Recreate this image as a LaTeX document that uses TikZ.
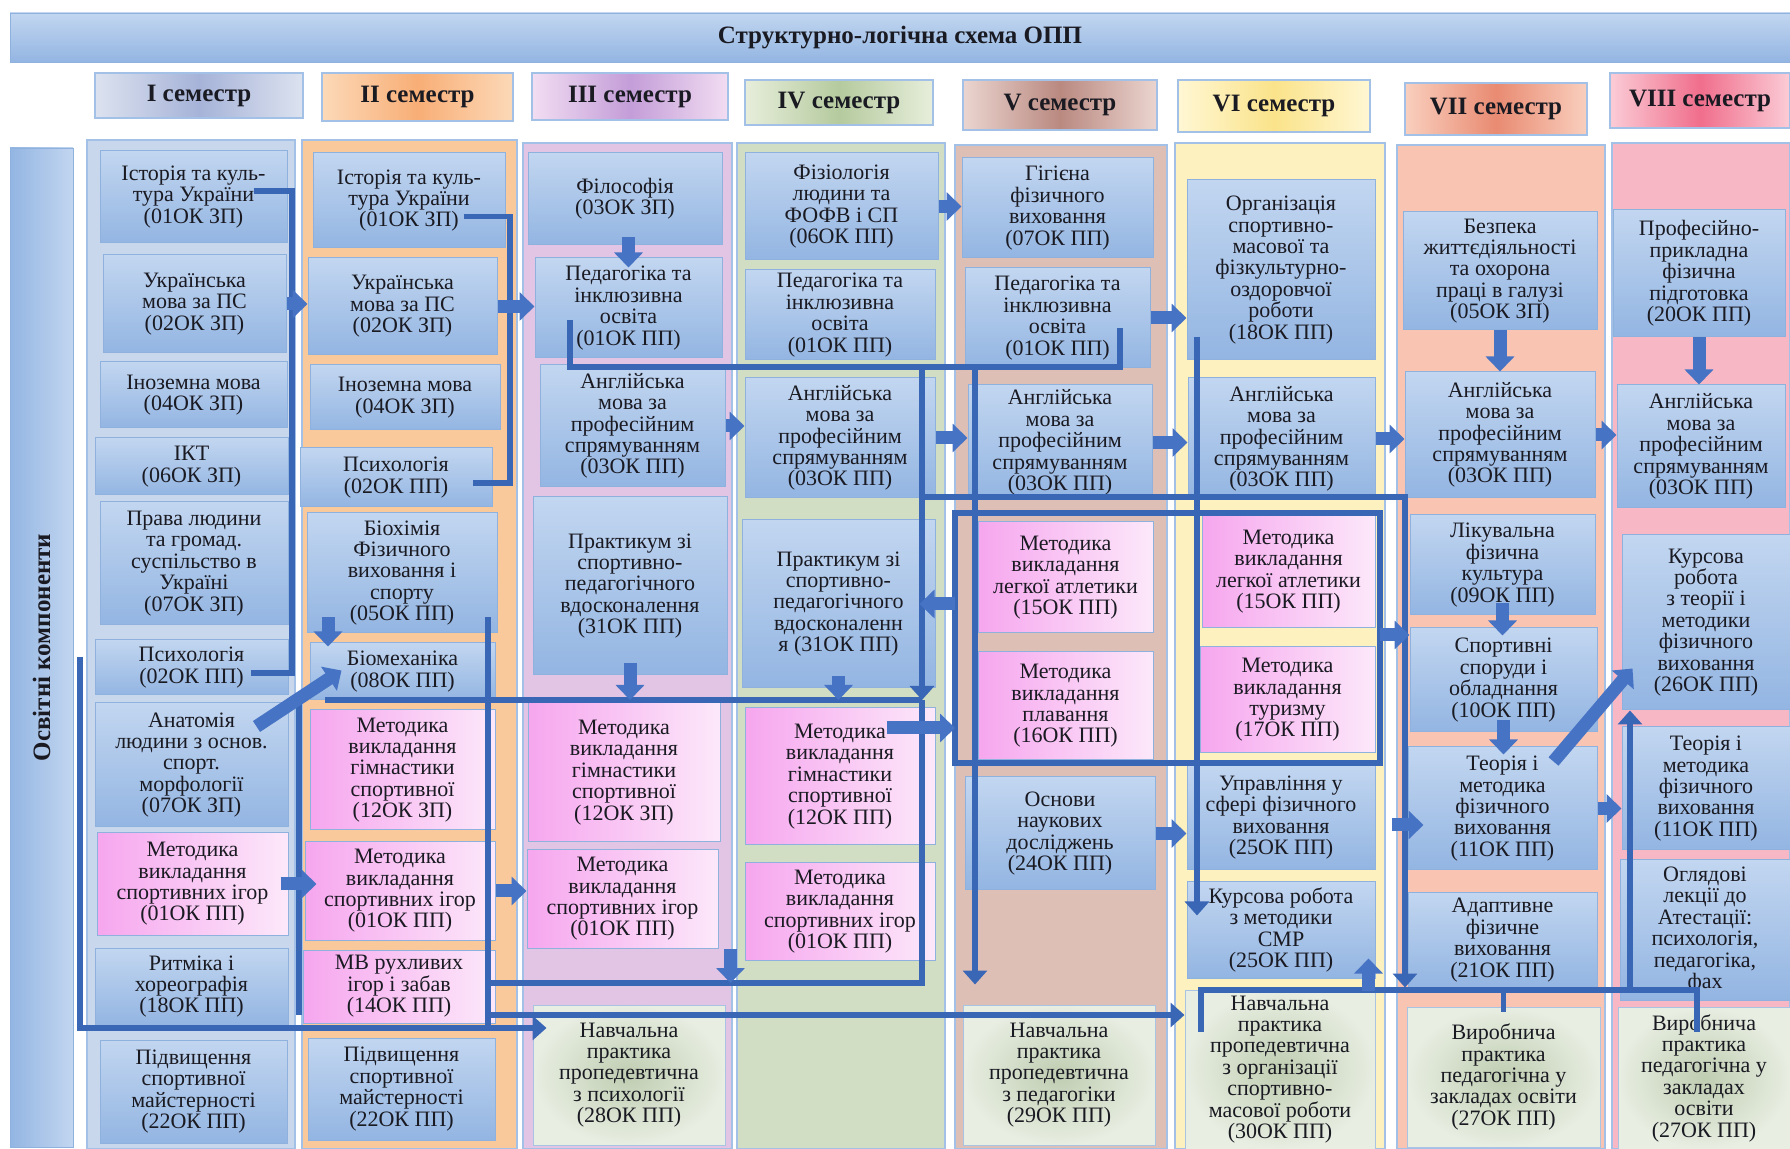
\documentclass[tikz,border=0pt]{standalone}
\usepackage{fontspec}
\setmainfont{Liberation Serif}
\usetikzlibrary{arrows.meta}

\definecolor{ink}{HTML}{1A1A22}
\definecolor{edgeblue}{HTML}{8EB1DE}
\definecolor{boxtop}{HTML}{C2D6F0}
\definecolor{boxbot}{HTML}{93B5E2}
\definecolor{pinkl}{HTML}{F6A6EE}
\definecolor{pinkr}{HTML}{FCE8FA}
\definecolor{greenin}{HTML}{BFCDB1}
\definecolor{greenout}{HTML}{E8EEE2}
\definecolor{greenedge}{HTML}{A9C3E3}
\definecolor{laneedge}{HTML}{A3C0E6}
\definecolor{linecol}{HTML}{3A66B6}
\definecolor{arrcol}{HTML}{4673C4}
\definecolor{lane1}{HTML}{C9D7EC}
\definecolor{lane2}{HTML}{F9C99C}
\definecolor{lane3}{HTML}{E2C5E4}
\definecolor{lane4}{HTML}{D2DEC3}
\definecolor{lane5}{HTML}{DEBFB5}
\definecolor{lane6}{HTML}{FCF1BF}
\definecolor{lane7}{HTML}{F9C4B2}
\definecolor{lane8}{HTML}{F8B7C4}
\definecolor{s1e}{HTML}{DCE2EF}\definecolor{s1m}{HTML}{A6B3D8}
\definecolor{s2e}{HTML}{FCD9B8}\definecolor{s2m}{HTML}{F8AE76}
\definecolor{s3e}{HTML}{F2DDF2}\definecolor{s3m}{HTML}{C39DD8}
\definecolor{s4e}{HTML}{E7EEDB}\definecolor{s4m}{HTML}{B5CA9E}
\definecolor{s5e}{HTML}{EBD5D0}\definecolor{s5m}{HTML}{B98980}
\definecolor{s6e}{HTML}{FFF7D4}\definecolor{s6m}{HTML}{FAE38A}
\definecolor{s7e}{HTML}{F9CFBE}\definecolor{s7m}{HTML}{E98B72}
\definecolor{s8e}{HTML}{FBCCD6}\definecolor{s8m}{HTML}{F06E8C}

\tikzset{
  subj/.style={draw=edgeblue, line width=0.5pt, top color=boxtop, bottom color=boxbot,
    text=ink, align=center, inner sep=1pt, font=\fontsize{11}{10.7}\selectfont},
  pinkbox/.style={subj, left color=pinkl, right color=pinkr},
  practbox/.style={subj, draw=greenedge, inner color=greenin, outer color=greenout},
  lane/.style={draw=laneedge, line width=0.6pt, fill=#1},
  semhead/.style 2 args={draw=laneedge, line width=0.6pt, left color=#1, right color=#1,
    middle color=#2, text=ink, font=\bfseries\fontsize{12.5}{12.5}\selectfont},
  flow/.style={draw=linecol, line width=2.8pt},
  flowarr/.style={flow, -{Triangle[width=12pt,length=7pt]}},
  fat/.style={draw=arrcol, line width=6.5pt, -{Triangle[width=14pt,length=7.5pt]}}
}

\newcommand{\discbox}[7]{%
  \pgfmathsetmacro\dbw{(#4-#2)/2}%
  \pgfmathsetmacro\dbh{(#5-#3)/2}%
  \node[#6, minimum width=\dbw pt, minimum height=\dbh pt] (#1) at ({(#2+#4)/2},{(#3+#5)/2}) {#7};%
}

\begin{document}
\begin{tikzpicture}[x=0.5pt, y=-0.5pt]
  \useasboundingbox (0,0) rectangle (1790,1149);
  \fill[white] (0,0) rectangle (1790,1149);

  \discbox{col1}{87}{140}{295}{1149}{lane=lane1}{}
  \discbox{col2}{302}{140}{517}{1149}{lane=lane2}{}
  \discbox{col3}{523}{143}{732}{1149}{lane=lane3}{}
  \discbox{col4}{737}{143}{945}{1149}{lane=lane4}{}
  \discbox{col5}{955}{145}{1167}{1149}{lane=lane5}{}
  \discbox{col6}{1175}{143}{1385}{1149}{lane=lane6}{}
  \discbox{col7}{1397}{145}{1605}{1149}{lane=lane7}{}
  \discbox{col8}{1612}{143}{1790}{1149}{lane=lane8}{}

  \discbox{title}{10}{13}{1790}{62}{draw=edgeblue, top color=boxtop, bottom color=boxbot, text=ink, font=\bfseries\fontsize{12.5}{12.5}\selectfont}{Структурно-логічна схема ОПП}
  \discbox{comp}{10}{148}{73}{1147}{draw=edgeblue, left color=boxbot, right color=boxtop}{}
  \node[rotate=90, text=ink, font=\bfseries\fontsize{12.5}{12.5}\selectfont] (comptxt) at (comp) {Освітні компоненти};

  \discbox{sem1}{95}{73}{303}{118}{semhead={s1e}{s1m}}{I семестр}
  \discbox{sem2}{322}{73}{513}{121}{semhead={s2e}{s2m}}{II семестр}
  \discbox{sem3}{532}{73}{728}{120}{semhead={s3e}{s3m}}{III семестр}
  \discbox{sem4}{745}{80}{933}{125}{semhead={s4e}{s4m}}{IV семестр}
  \discbox{sem5}{963}{80}{1157}{130}{semhead={s5e}{s5m}}{V семестр}
  \discbox{sem6}{1178}{80}{1370}{132}{semhead={s6e}{s6m}}{VI семестр}
  \discbox{sem7}{1405}{83}{1587}{135}{semhead={s7e}{s7m}}{VII семестр}
  \discbox{sem8}{1610}{73}{1790}{128}{semhead={s8e}{s8m}}{VIII семестр}

  \discbox{a1}{100}{151}{287}{243}{subj}{Історія та куль-\\тура України\\(01ОК ЗП)}
  \discbox{a2}{103}{255}{286}{353}{subj}{Українська\\мова за ПС\\(02ОК ЗП)}
  \discbox{a3}{100}{362}{287}{428}{subj}{Іноземна мова\\(04ОК ЗП)}
  \discbox{a4}{95}{438}{288}{495}{subj}{ІКТ\\(06ОК ЗП)}
  \discbox{a5}{100}{502}{288}{625}{subj}{Права людини\\та громад.\\суспільство в\\Україні\\(07ОК ЗП)}
  \discbox{a6}{95}{640}{288}{695}{subj}{Психологія\\(02ОК ПП)}
  \discbox{a7}{95}{703}{288}{827}{subj}{Анатомія\\людини з основ.\\спорт.\\морфології\\(07ОК ЗП)}
  \discbox{a8}{97}{833}{288}{935}{pinkbox}{Методика\\викладання\\спортивних ігор\\(01ОК ПП)}
  \discbox{a9}{95}{948}{288}{1025}{subj}{Ритміка і\\хореографія\\(18ОК ПП)}
  \discbox{a10}{100}{1040}{287}{1143}{subj}{Підвищення\\спортивної\\майстерності\\(22ОК ПП)}

  \discbox{b1}{313}{153}{505}{248}{subj}{Історія та куль-\\тура України\\(01ОК ЗП)}
  \discbox{b2}{308}{258}{497}{355}{subj}{Українська\\мова за ПС\\(02ОК ЗП)}
  \discbox{b3}{310}{365}{500}{430}{subj}{Іноземна мова\\(04ОК ЗП)}
  \discbox{b4}{300}{448}{492}{507}{subj}{Психологія\\(02ОК ПП)}
  \discbox{b5}{307}{513}{497}{633}{subj}{Біохімія\\Фізичного\\виховання і\\спорту\\(05ОК ПП)}
  \discbox{b6}{310}{643}{495}{700}{subj}{Біомеханіка\\(08ОК ПП)}
  \discbox{b7}{310}{710}{495}{830}{pinkbox}{Методика\\викладання\\гімнастики\\спортивної\\(12ОК ЗП)}
  \discbox{b8}{305}{842}{495}{940}{pinkbox}{Методика\\викладання\\спортивних ігор\\(01ОК ПП)}
  \discbox{b9}{303}{950}{495}{1023}{pinkbox}{МВ рухливих\\ігор і забав\\(14ОК ПП)}
  \discbox{b10}{308}{1038}{495}{1140}{subj}{Підвищення\\спортивної\\майстерності\\(22ОК ПП)}

  \discbox{c1}{528}{153}{722}{245}{subj}{Філософія\\(03ОК ЗП)}
  \discbox{c2}{535}{258}{722}{358}{subj}{Педагогіка та\\інклюзивна\\освіта\\(01ОК ПП)}
  \discbox{c3}{540}{365}{725}{487}{subj}{Англійська\\мова за\\професійним\\спрямуванням\\(03ОК ПП)}
  \discbox{c4}{533}{497}{727}{675}{subj}{Практикум зі\\спортивно-\\педагогічного\\вдосконалення\\(31ОК ПП)}
  \discbox{c5}{528}{703}{720}{842}{pinkbox}{Методика\\викладання\\гімнастики\\спортивної\\(12ОК ЗП)}
  \discbox{c6}{527}{850}{718}{948}{pinkbox}{Методика\\викладання\\спортивних ігор\\(01ОК ПП)}
  \discbox{c7}{533}{1005}{725}{1145}{practbox}{Навчальна\\практика\\пропедевтична\\з психології\\(28ОК ПП)}

  \discbox{d1}{745}{153}{938}{260}{subj}{Фізіологія\\людини та\\ФОФВ і СП\\(06ОК ПП)}
  \discbox{d2}{745}{270}{935}{360}{subj}{Педагогіка та\\інклюзивна\\освіта\\(01ОК ПП)}
  \discbox{d3}{745}{378}{935}{498}{subj}{Англійська\\мова за\\професійним\\спрямуванням\\(03ОК ПП)}
  \discbox{d4}{742}{520}{935}{688}{subj}{Практикум зі\\спортивно-\\педагогічного\\вдосконаленн\\я (31ОК ПП)}
  \discbox{d5}{745}{708}{935}{845}{pinkbox}{Методика\\викладання\\гімнастики\\спортивної\\(12ОК ПП)}
  \discbox{d6}{745}{863}{935}{960}{pinkbox}{Методика\\викладання\\спортивних ігор\\(01ОК ПП)}

  \discbox{e1}{962}{158}{1153}{258}{subj}{Гігієна\\фізичного\\виховання\\(07ОК ПП)}
  \discbox{e2}{965}{268}{1150}{368}{subj}{Педагогіка та\\інклюзивна\\освіта\\(01ОК ПП)}
  \discbox{e3}{968}{385}{1152}{500}{subj}{Англійська\\мова за\\професійним\\спрямуванням\\(03ОК ПП)}
  \discbox{e4}{978}{522}{1153}{633}{pinkbox}{Методика\\викладання\\легкої атлетики\\(15ОК ПП)}
  \discbox{e5}{978}{652}{1153}{760}{pinkbox}{Методика\\викладання\\плавання\\(16ОК ПП)}
  \discbox{e6}{965}{777}{1155}{890}{subj}{Основи\\наукових\\досліджень\\(24ОК ПП)}
  \discbox{e7}{963}{1005}{1155}{1145}{practbox}{Навчальна\\практика\\пропедевтична\\з педагогіки\\(29ОК ПП)}

  \discbox{f1}{1187}{180}{1375}{360}{subj}{Організація\\спортивно-\\масової та\\фізкультурно-\\оздоровчої\\роботи\\(18ОК ПП)}
  \discbox{f2}{1188}{378}{1375}{500}{subj}{Англійська\\мова за\\професійним\\спрямуванням\\(03ОК ПП)}
  \discbox{f3}{1202}{515}{1375}{628}{pinkbox}{Методика\\викладання\\легкої атлетики\\(15ОК ПП)}
  \discbox{f4}{1200}{647}{1375}{753}{pinkbox}{Методика\\викладання\\туризму\\(17ОК ПП)}
  \discbox{f5}{1187}{765}{1375}{870}{subj}{Управління у\\сфері фізичного\\виховання\\(25ОК ПП)}
  \discbox{f6}{1187}{882}{1375}{978}{subj}{Курсова робота\\з методики\\СМР\\(25ОК ПП)}
  \discbox{f7}{1185}{990}{1375}{1149}{practbox}{Навчальна\\практика\\пропедевтична\\з організації\\спортивно-\\масової роботи\\(30ОК ПП)}

  \discbox{g1}{1403}{212}{1597}{330}{subj}{Безпека\\життєдіяльності\\та охорона\\праці в галузі\\(05ОК ЗП)}
  \discbox{g2}{1405}{372}{1595}{498}{subj}{Англійська\\мова за\\професійним\\спрямуванням\\(03ОК ПП)}
  \discbox{g3}{1410}{515}{1595}{615}{subj}{Лікувальна\\фізична\\культура\\(09ОК ПП)}
  \discbox{g4}{1410}{628}{1597}{732}{subj}{Спортивні\\споруди і\\обладнання\\(10ОК ПП)}
  \discbox{g5}{1408}{747}{1597}{870}{subj}{Теорія і\\методика\\фізичного\\виховання\\(11ОК ПП)}
  \discbox{g6}{1408}{893}{1597}{987}{subj}{Адаптивне\\фізичне\\виховання\\(21ОК ПП)}
  \discbox{g7}{1407}{1007}{1600}{1147}{practbox}{Виробнича\\практика\\педагогічна у\\закладах освіти\\(27ОК ПП)}

  \discbox{h1}{1613}{210}{1785}{337}{subj}{Професійно-\\прикладна\\фізична\\підготовка\\(20ОК ПП)}
  \discbox{h2}{1617}{385}{1785}{508}{subj}{Англійська\\мова за\\професійним\\спрямуванням\\(03ОК ПП)}
  \discbox{h3}{1622}{535}{1790}{710}{subj}{Курсова\\робота\\з теорії і\\методики\\фізичного\\виховання\\(26ОК ПП)}
  \discbox{h4}{1622}{727}{1790}{850}{subj}{Теорія і\\методика\\фізичного\\виховання\\(11ОК ПП)}
  \discbox{h5}{1620}{860}{1790}{1000}{subj}{Оглядові\\лекції до\\Атестації:\\психологія,\\педагогіка,\\фах}
  \discbox{h6}{1618}{1007}{1790}{1149}{practbox}{Виробнича\\практика\\педагогічна у\\закладах\\освіти\\(27ОК ПП)}

  \coordinate (p1) at (292,673);
  \coordinate (p2) at (510,483);
  \coordinate (p3) at (570,367);
  \coordinate (p4) at (1120,367);
  \coordinate (p5) at (975,367);
  \coordinate (p6) at (922,367);
  \coordinate (p7) at (1197,337);
  \coordinate (m0) at (299,700);
  \coordinate (m1) at (325,700);
  \coordinate (m2) at (922,700);
  \coordinate (q1) at (488,983);
  \coordinate (q2) at (922,983);
  \coordinate (q3) at (488,1015);
  \coordinate (q4) at (488,1025);
  \coordinate (q5) at (80,657);
  \coordinate (q6) at (80,1028);
  \coordinate (r0) at (922,497);
  \coordinate (r1) at (1405,497);
  \coordinate (k1) at (955,513);
  \coordinate (k2) at (1380,763);
  \coordinate (u1) at (1201,990);
  \coordinate (u2) at (1697,990);
  \coordinate (u3) at (1630,990);
  \coordinate (t1) at (887,728);
  \coordinate (t2) at (1380,635);
  \coordinate (t3) at (1392,825);

  \draw[flow] ([xshift=-17pt,yshift=3pt]a1.east) -| (p1) -- ([xshift=-19pt]p1 -| a6.east);
  \draw[flow] ([xshift=-21pt,yshift=-8pt]b1.east) -| (p2) -- ([xshift=-10pt]p2 -| b4.east);
  \draw[flow] ([yshift=19pt]c2.south -| p3) -- (p3) -- (p4) -- ([yshift=20pt]p4 |- e2.south);
  \draw[flowarr] (p5) -- ([yshift=10pt]p5 |- e7.north);
  \draw[flowarr] (p6) -- (m2);
  \draw[flow] (m2) -- (q2) -- (q1);
  \draw[flow] (m1) -- (m2);
  \draw[flow] (m0) -- (m0 |- q3);
  \draw[flow] ([yshift=8pt]q4 |- b5.south) -- (q4);
  \draw[flowarr] (q3) -- (q3 -| f7.west);
  \draw[flowarr] (q5) -- (q6) -- ([xshift=7pt]q6 -| c7.west);
  \draw[flowarr] (r0) -- (r1) -- (r1 |- g6.south);
  \draw[flow] (k1) rectangle (k2);
  \draw[flowarr] (p7) -- ([yshift=-17pt]p7 |- f6.north);
  \draw[flow] ([yshift=-21pt]u1) -- (u1) -- (u2) -- ([yshift=-21pt]u2);
  \draw[flow] (u1 -| g7.north) -- ([yshift=-11pt]u1 -| g7.north);
  \draw[flowarr] (u3) -- (u3 |- h3.south);

  \draw[fat] (a2.east) -- (a2.east -| b2.west);
  \draw[fat] (b2.east) -- (b2.east -| c2.west);
  \draw[fat] ([yshift=4pt]c2.north |- c1.south) -- ([yshift=-5pt]c2.north);
  \draw[fat] (d1.east) -- (d1.east -| e1.west);
  \draw[fat] (e2.east) -- (e2.east -| f1.west);
  \draw[fat] (c3.east) -- (c3.east -| d3.west);
  \draw[fat] (d3.east) -- (d3.east -| e3.west);
  \draw[fat] (e3.east) -- (e3.east -| f2.west);
  \draw[fat] (f2.east) -- (f2.east -| g2.west);
  \draw[fat] (g2.east) -- (g2.east -| h2.west);
  \draw[fat] (g1.south) -- (g1.south |- g2.north);
  \draw[fat] (h1.south) -- (h1.south |- h2.north);
  \draw[fat] ([yshift=6pt]c4.south) -- (c4.south |- m1);
  \draw[fat] ([yshift=6pt]d4.south) -- (d4.south |- m1);
  \draw[fat] (k1 |- d4.east) -- ([xshift=-8pt]d4.east);
  \draw[fat] (t1) -- (t1 -| k1);
  \draw[fat] ([xshift=-4pt]a8.east) -- ([xshift=6pt]a8.east -| b8.west);
  \draw[fat] (b8.east) -- (b8.east -| c6.west);
  \draw[fat] (e6.east) -- (e6.east -| f5.west);
  \draw[fat] ([yshift=6pt]g3.south) -- ([yshift=-4pt]g3.south |- g4.north);
  \draw[fat] ([yshift=6pt]g4.south) -- ([yshift=-4pt]g4.south |- g5.north);
  \draw[fat] (g5.east) -- (g5.east -| h4.west);
  \draw[fat] (t3) -- ([xshift=8pt]t3 -| g5.west);
  \draw[fat] ([xshift=-37pt,yshift=8pt]b5.south) -- ([xshift=-37pt,yshift=-2pt]b5.south |- b6.north);
  \draw[fat] ([xshift=-3.5pt,yshift=-6pt]f6.south east) -- ([xshift=-3.5pt,yshift=10pt]f6.south east);
  \draw[fat] ([xshift=6pt]c6.south east) -- ([xshift=6pt]c6.south east |- q1);
  \draw[fat] ([xshift=-16pt,yshift=-12pt]a7.north east) -- ([xshift=16pt,yshift=15pt]b6.south west);
  \draw[fat] ([xshift=-22pt,yshift=-7.5pt]g5.north east) -- ([xshift=5.5pt,yshift=21pt]h3.south west);
  \draw[fat] (t2) -- (t2 -| g4.west);
\end{tikzpicture}
\end{document}
